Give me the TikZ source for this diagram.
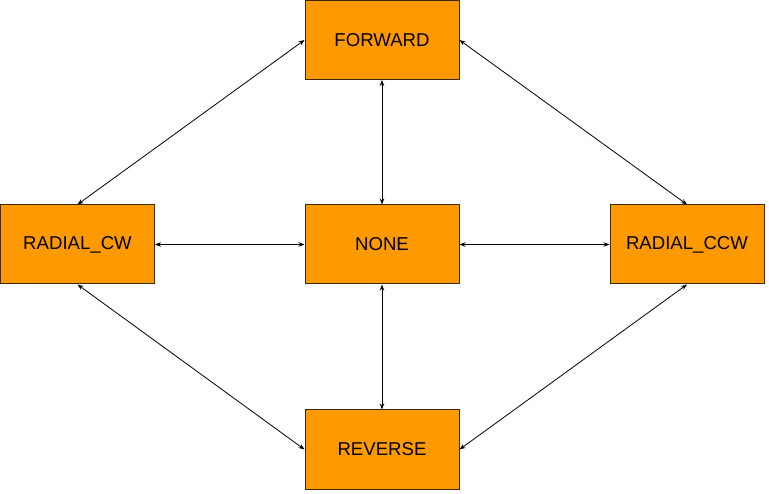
\documentclass[tikz,border=0pt]{standalone}
\usepackage{fontspec}
\setmainfont{Liberation Sans}
\usetikzlibrary{arrows.meta}
\definecolor{boxorange}{HTML}{FF9900}
\definecolor{boxline}{HTML}{3A2A10}
\begin{document}
\begin{tikzpicture}[x=1pt,y=-1pt,
  statebox/.style={draw=boxline,line width=1pt,fill=boxorange,minimum width=154pt,minimum height=79pt,inner sep=0pt,font=\fontsize{18.6}{22}\selectfont,anchor=center},
  link/.style={line width=0.8pt,{Stealth[length=6pt,width=4.5pt]}-{Stealth[length=6pt,width=4.5pt]}}]
\useasboundingbox (0,0) rectangle (769,494);
\node[statebox] (fwd) at (382,40) {FORWARD};
\node[statebox] (none) at (382,244.5) {NONE};
\node[statebox] (cw) at (77.5,244.5) {RADIAL\_CW};
\node[statebox] (ccw) at (687,244.5) {RADIAL\_CCW};
\node[statebox] (rev) at (382,449.5) {REVERSE};
\draw[link] (fwd.west) -- (cw.north);
\draw[link] (fwd.east) -- (ccw.north);
\draw[link] (fwd.south) -- (none.north);
\draw[link] (none.west) -- (cw.east);
\draw[link] (none.east) -- (ccw.west);
\draw[link] (none.south) -- (rev.north);
\draw[link] (cw.south) -- (rev.west);
\draw[link] (ccw.south) -- (rev.east);
\end{tikzpicture}
\end{document}
